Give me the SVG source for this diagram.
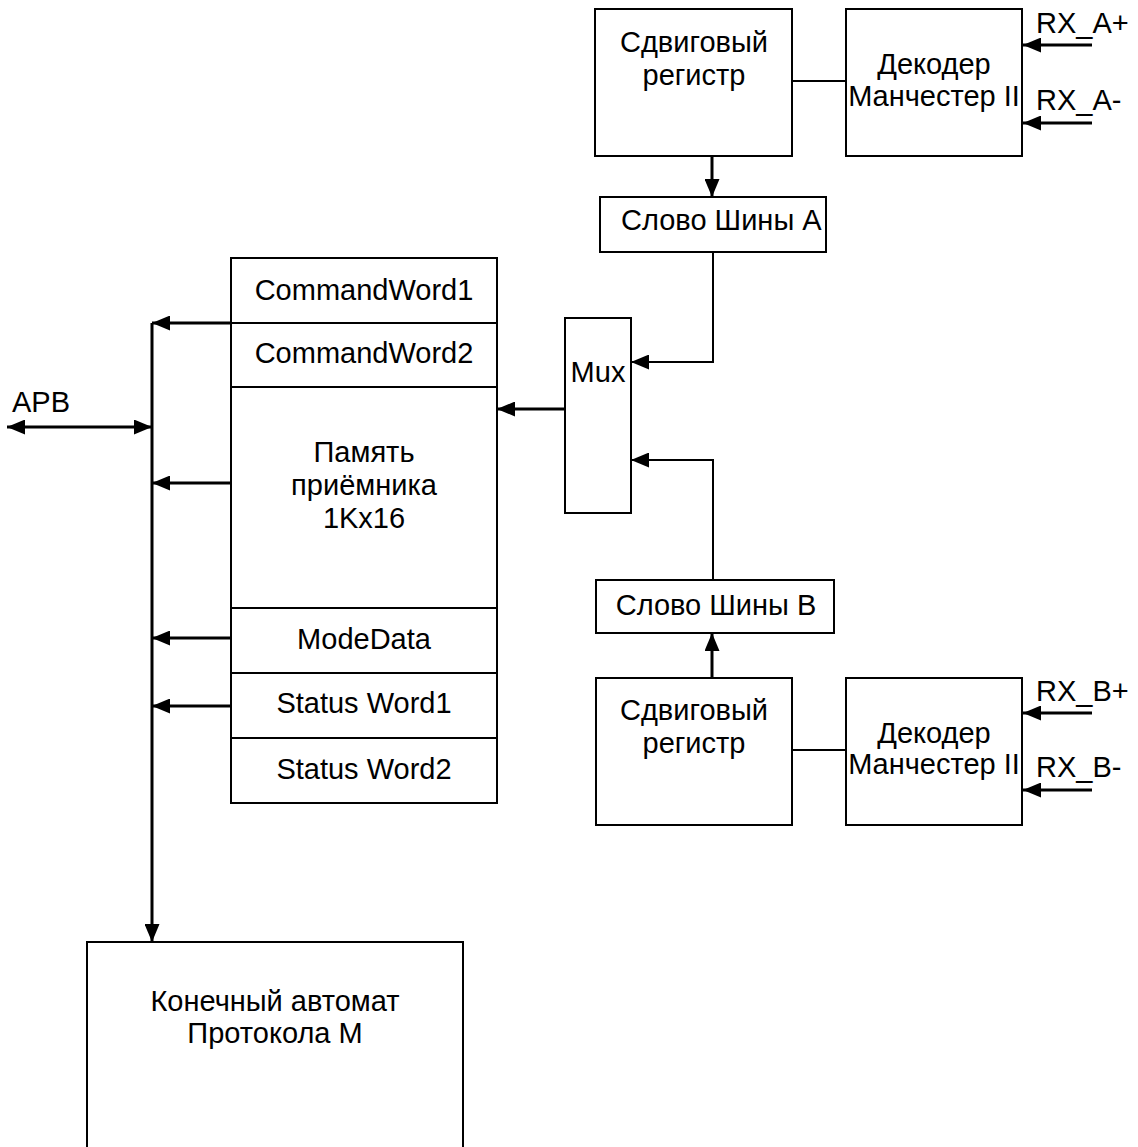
<svg xmlns="http://www.w3.org/2000/svg" width="1138" height="1147" viewBox="0 0 1138 1147">
<style>
.box{fill:#fff;stroke:#000;stroke-width:2}
.t{font-family:"Liberation Sans",Arial,sans-serif;font-size:29px;fill:#000;text-anchor:middle}
.ts{font-family:"Liberation Sans",Arial,sans-serif;font-size:29px;fill:#000}
.w{fill:none;stroke:#000;stroke-width:3}
.thin{fill:none;stroke:#000;stroke-width:2}
</style>
<defs>
<marker id="ah" markerWidth="18" markerHeight="15" refX="18" refY="7.5" orient="auto-start-reverse" markerUnits="userSpaceOnUse"><path d="M0,0 L18,7.5 L0,15 z" fill="#000"/></marker>
</defs>
<rect width="1138" height="1147" fill="#fff"/>
<g id="shiftA"><rect class="box" x="595" y="9" width="197" height="147"/><text class="t" x="694" y="52">Сдвиговый</text><text class="t" x="694" y="85">регистр</text></g>
<g id="decA"><rect class="box" x="846" y="9" width="176" height="147"/><text class="t" x="934" y="74">Декодер</text><text class="t" x="934" y="106">Манчестер II</text></g>
<g id="wordA"><rect class="box" x="600" y="197" width="226" height="55"/><text class="ts" x="621" y="230">Слово Шины А</text></g>
<g id="mux"><rect class="box" x="565" y="318" width="66" height="195"/><text class="t" x="598" y="382">Mux</text></g>
<g id="wordB"><rect class="box" x="596" y="580" width="238" height="53"/><text class="t" x="716" y="615">Слово Шины В</text></g>
<g id="shiftB"><rect class="box" x="596" y="678" width="196" height="147"/><text class="t" x="694" y="720">Сдвиговый</text><text class="t" x="694" y="753">регистр</text></g>
<g id="decB"><rect class="box" x="846" y="678" width="176" height="147"/><text class="t" x="934" y="743">Декодер</text><text class="t" x="934" y="774">Манчестер II</text></g>
<g id="mem">
<rect class="box" x="231" y="258" width="266" height="545"/>
<line class="thin" x1="231" y1="323" x2="497" y2="323"/>
<line class="thin" x1="231" y1="387" x2="497" y2="387"/>
<line class="thin" x1="231" y1="608" x2="497" y2="608"/>
<line class="thin" x1="231" y1="673" x2="497" y2="673"/>
<line class="thin" x1="231" y1="738" x2="497" y2="738"/>
<text class="t" x="364" y="300">CommandWord1</text>
<text class="t" x="364" y="363">CommandWord2</text>
<text class="t" x="364" y="462">Память</text>
<text class="t" x="364" y="495">приёмника</text>
<text class="t" x="364" y="528">1Kx16</text>
<text class="t" x="364" y="649">ModeData</text>
<text class="t" x="364" y="713">Status Word1</text>
<text class="t" x="364" y="779">Status Word2</text>
</g>
<g id="fsm"><rect class="box" x="87" y="942" width="376" height="220"/><text class="t" x="275" y="1011">Конечный автомат</text><text class="t" x="275" y="1043">Протокола М</text></g>
<g id="labels">
<text class="ts" x="1036" y="33">RX_A+</text>
<text class="ts" x="1036" y="110">RX_A-</text>
<text class="ts" x="1036" y="701">RX_B+</text>
<text class="ts" x="1036" y="777">RX_B-</text>
<text class="ts" x="12" y="412">APB</text>
</g>
<g id="connectors">
<line class="thin" x1="792" y1="81" x2="846" y2="81"/>
<line class="thin" x1="792" y1="750" x2="846" y2="750"/>
<line class="w" x1="1092" y1="45" x2="1023" y2="45" marker-end="url(#ah)"/>
<line class="w" x1="1092" y1="123" x2="1023" y2="123" marker-end="url(#ah)"/>
<line class="w" x1="1092" y1="713" x2="1023" y2="713" marker-end="url(#ah)"/>
<line class="w" x1="1092" y1="790" x2="1023" y2="790" marker-end="url(#ah)"/>
<line class="w" x1="712" y1="156" x2="712" y2="197" marker-end="url(#ah)"/>
<line class="w" x1="712" y1="678" x2="712" y2="633" marker-end="url(#ah)"/>
<polyline class="thin" points="713,252 713,362 631,362" marker-end="url(#ah)"/>
<polyline class="thin" points="713,580 713,460 631,460" marker-end="url(#ah)"/>
<line class="w" x1="565" y1="409" x2="497" y2="409" marker-end="url(#ah)"/>
<line class="w" x1="152" y1="323" x2="152" y2="942" marker-end="url(#ah)"/>
<line class="w" x1="231" y1="323" x2="152" y2="323" marker-end="url(#ah)"/>
<line class="w" x1="231" y1="483" x2="152" y2="483" marker-end="url(#ah)"/>
<line class="w" x1="231" y1="638" x2="152" y2="638" marker-end="url(#ah)"/>
<line class="w" x1="231" y1="706" x2="152" y2="706" marker-end="url(#ah)"/>
<line class="w" x1="7" y1="427" x2="152" y2="427" marker-start="url(#ah)" marker-end="url(#ah)"/>
</g>
</svg>
